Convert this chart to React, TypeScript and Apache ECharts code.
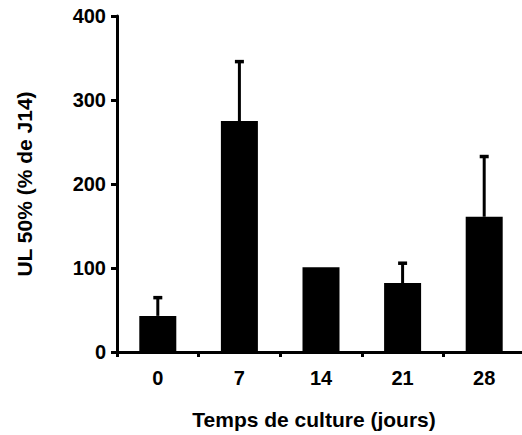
import React, { useEffect, useRef } from "react";
import * as echarts from "echarts";

const categories = ["0", "7", "14", "21", "28"];
const means = [43, 275, 101, 82, 161];
const errors = [22, 71, 0, 24, 72];
const yTicks = { min: 0, max: 400, interval: 100 };

const FONT = "'Liberation Sans', Arial, Helvetica, sans-serif";

export default function App() {
  const ref = useRef<HTMLDivElement>(null);
  useEffect(() => {
    if (!ref.current) return;
    const chart = echarts.init(ref.current, null, { renderer: "svg" });
    const errData = means.map((m, i) => [i, m, m + errors[i]]);
    chart.setOption({
      animation: false,
      backgroundColor: "#ffffff",
      grid: { left: 117, top: 16, width: 408, height: 336 },
      xAxis: {
        type: "category",
        data: categories,
        name: "Temps de culture (jours)",
        nameLocation: "middle",
        nameGap: 57,
        nameTextStyle: { fontFamily: FONT, fontWeight: "bold", fontSize: 21, color: "#000", padding: [0, 14, 0, 0] },
        axisLine: { lineStyle: { color: "#000", width: 3 } },
        axisTick: { show: true, length: 5, lineStyle: { color: "#000", width: 3 } },
        axisLabel: { margin: 16, fontFamily: FONT, fontWeight: "bold", fontSize: 20, color: "#000" },
        splitLine: { show: false },
      },
      yAxis: {
        type: "value",
        min: yTicks.min,
        max: yTicks.max,
        interval: yTicks.interval,
        name: "UL 50% (% de J14)",
        nameLocation: "middle",
        nameGap: 82,
        nameRotate: 90,
        nameTextStyle: { fontFamily: FONT, fontWeight: "bold", fontSize: 21, color: "#000" },
        axisLine: { show: true, lineStyle: { color: "#000", width: 3 } },
        axisTick: { show: true, length: 6, lineStyle: { color: "#000", width: 3 } },
        axisLabel: { margin: 11, fontFamily: FONT, fontWeight: "bold", fontSize: 20, color: "#000" },
        splitLine: { show: false },
      },
      series: [
        {
          type: "bar",
          data: means,
          barWidth: 37,
          itemStyle: { color: "#000" },
          z: 2,
        },
        {
          type: "custom",
          data: errData,
          z: 3,
          renderItem: (params: any, api: any) => {
            const x = api.value(0);
            const lo = api.coord([x, api.value(1)]);
            const hi = api.coord([x, api.value(2)]);
            if (Math.abs(lo[1] - hi[1]) < 1) return { type: "group", children: [] };
            return {
              type: "group",
              children: [
                {
                  type: "line",
                  shape: { x1: lo[0], y1: lo[1], x2: hi[0], y2: hi[1] + 1 },
                  style: { stroke: "#000", lineWidth: 3 },
                },
                {
                  type: "rect",
                  shape: { x: hi[0] - 4.5, y: hi[1] - 1.5, width: 9, height: 3.5 },
                  style: { fill: "#000" },
                },
              ],
            };
          },
        },
      ],
    });
    return () => chart.dispose();
  }, []);
  return (
    <div style={{ position: "fixed", left: 0, top: 0, width: 522, height: 435, overflow: "hidden", background: "#fff" }}>
      <div ref={ref} style={{ width: 530, height: 435 }} />
    </div>
  );
}
